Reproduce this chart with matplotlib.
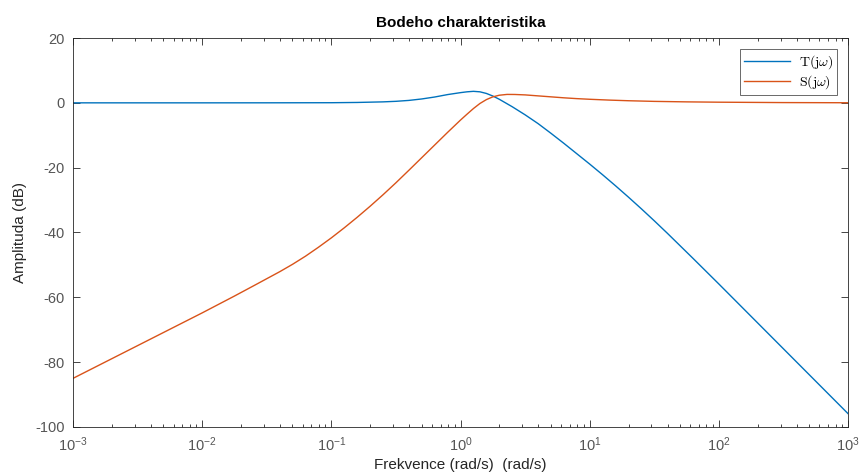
import numpy as np
import matplotlib
matplotlib.use('Agg')
import matplotlib.pyplot as plt
from matplotlib.ticker import LogLocator, NullFormatter

plt.rcParams['font.family'] = ['Liberation Sans', 'DejaVu Sans']
plt.rcParams['mathtext.fontset'] = 'custom'
plt.rcParams['mathtext.rm'] = 'Liberation Sans'
plt.rcParams['mathtext.it'] = 'Liberation Sans:italic'
plt.rcParams['axes.unicode_minus'] = False

# Frequency points (log10 of rad/s) and magnitude in dB
logW_T = [-3.0, -2.0, -1.5, -1.0, -0.8, -0.6, -0.5, -0.4, -0.3, -0.2, -0.1,
          0.0, 0.05, 0.1, 0.15, 0.2, 0.25, 0.3, 0.4, 0.5, 0.6, 0.7, 0.8,
          0.9, 1.0, 1.1, 1.2, 1.3, 1.4, 1.5, 1.6, 1.7, 1.8, 1.9, 2.0, 2.25,
          2.5, 2.75, 3.0]
magT = [0.0, 0.0, 0.01, 0.04, 0.12, 0.3, 0.47, 0.75, 1.2, 1.8, 2.55,
        3.15, 3.4, 3.55, 3.4, 2.9, 2.1, 1.1, -1.2, -3.7, -6.4, -9.4, -12.5,
        -15.7, -18.9, -22.2, -25.6, -29.1, -32.7, -36.4, -40.2, -44.1, -48.0,
        -51.95, -55.9, -65.9, -75.9, -85.9, -95.9]

logW_S = [-3.0, -2.5, -2.0, -1.75, -1.6, -1.5, -1.4, -1.3, -1.2, -1.1, -1.0,
          -0.9, -0.8, -0.7, -0.6, -0.5, -0.4, -0.3, -0.2, -0.1, 0.0, 0.05,
          0.1, 0.15, 0.2, 0.25, 0.3, 0.36, 0.42, 0.5, 0.6, 0.7, 0.8, 0.9,
          1.0, 1.15, 1.3, 1.5, 1.75, 2.0, 2.5, 3.0]
magS = [-85.0, -74.9, -64.8, -59.6, -56.4, -54.25, -52.1, -49.8, -47.3,
        -44.55, -41.65, -38.55, -35.3, -31.9, -28.35, -24.65, -20.8, -16.9,
        -13.0, -9.1, -5.3, -3.5, -1.75, -0.2, 1.0, 1.85, 2.35, 2.6, 2.58,
        2.45, 2.15, 1.85, 1.55, 1.3, 1.1, 0.85, 0.65, 0.45, 0.3, 0.2, 0.08,
        0.03]

wT = 10.0 ** np.array(logW_T)
wS = 10.0 ** np.array(logW_S)

fig = plt.figure(figsize=(8.61, 4.74), dpi=100)
ax = fig.add_axes([0.0848, 0.0992, 0.9002, 0.8206])

ax.semilogx(wT, magT, color='#0072BD', lw=1.0, label=r'$\mathrm{T(j}\omega\mathrm{)}$')
ax.semilogx(wS, magS, color='#D95319', lw=1.0, label=r'$\mathrm{S(j}\omega\mathrm{)}$')

ax.set_xlim(1e-3, 1e3)
ax.set_ylim(-100, 20)
ax.set_yticks(np.arange(-100, 21, 20))
ax.xaxis.set_major_locator(LogLocator(base=10, numticks=10))
ax.xaxis.set_minor_locator(LogLocator(base=10, subs=np.arange(2, 10), numticks=20))
ax.xaxis.set_minor_formatter(NullFormatter())

axcol = '#262626'
for s in ax.spines.values():
    s.set_color(axcol)
    s.set_linewidth(0.6)
ax.tick_params(which='both', direction='in', top=True, right=True,
               colors=axcol, labelcolor='#555555', width=0.6)
ax.tick_params(which='major', length=5, labelsize=10.5, pad=6)
ax.tick_params(which='minor', length=2.5)

ax.set_title('Bodeho charakteristika', fontsize=11, fontweight='bold', color='black', pad=8)
ax.set_xlabel('Frekvence (rad/s)  (rad/s)', fontsize=11, color=axcol, labelpad=3)
ax.set_ylabel('Amplituda (dB)', fontsize=11, color=axcol, labelpad=6)

leg = ax.legend(loc='upper right', fontsize=10, frameon=True, fancybox=False,
                handlelength=3.3, borderpad=0.3, labelspacing=0.15,
                handletextpad=0.6, borderaxespad=0.8)
leg.get_frame().set_edgecolor(axcol)
leg.get_frame().set_linewidth(0.6)
for t in leg.get_texts():
    t.set_math_fontfamily('cm')

fig.savefig('out.png', dpi=100)
